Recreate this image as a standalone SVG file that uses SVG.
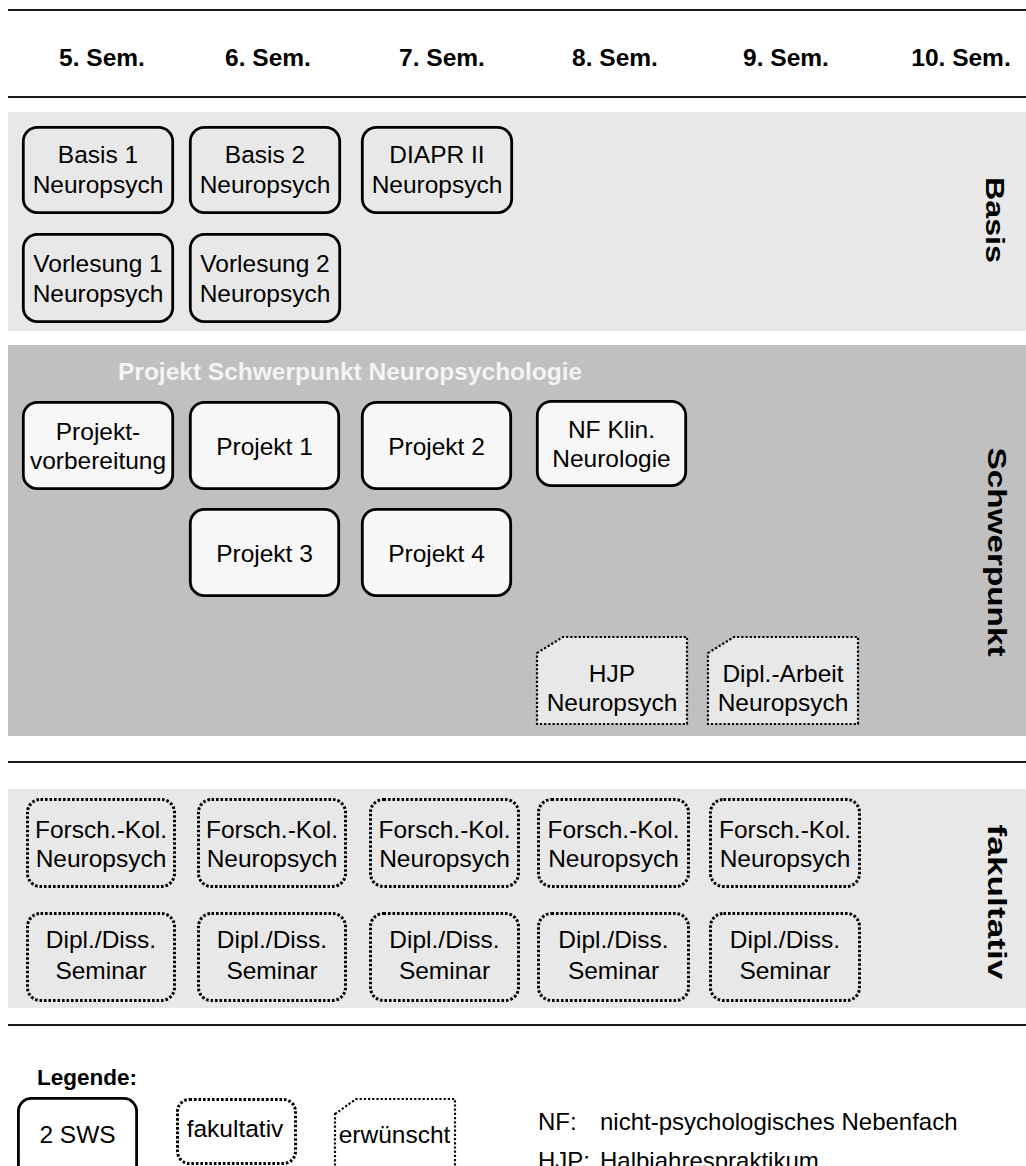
<svg xmlns="http://www.w3.org/2000/svg" width="1026" height="1166" viewBox="0 0 1026 1166">
<style>
text{font-family:"Liberation Sans",Arial,sans-serif;fill:#000}
.t{font-size:24.5px;text-anchor:middle}
.h{font-size:24.5px;font-weight:bold;text-anchor:middle}
.v{font-size:25px;font-weight:bold;text-anchor:middle}
.rule{stroke:#1a1a1a;stroke-width:2}
.solid{fill:#e8e8e8;stroke:#000;stroke-width:2.8}
.solidw{fill:#f7f7f7;stroke:#000;stroke-width:2.8}
.fak{fill:#e8e8e8;stroke:#000;stroke-width:3;stroke-dasharray:2.6 1.9}
.erw{fill:#e8e8e8;stroke:#000;stroke-width:2.2;stroke-dasharray:2.2 2}
</style>
<rect width="1026" height="1166" fill="#fff"/>
<g id="bands">
<rect x="8" y="112" width="1018" height="219" fill="#e8e8e8"/>
<rect x="8" y="345" width="1018" height="391" fill="#c0c0c0"/>
<rect x="8" y="789" width="1018" height="219" fill="#e8e8e8"/>
</g>
<g id="rules">
<line class="rule" x1="8" y1="10" x2="1026" y2="10"/>
<line class="rule" x1="8" y1="97" x2="1026" y2="97"/>
<line class="rule" x1="8" y1="762" x2="1026" y2="762"/>
<line class="rule" x1="8" y1="1025" x2="1026" y2="1025"/>
</g>
<g id="headers">
<text class="h" x="102" y="66">5. Sem.</text>
<text class="h" x="268" y="66">6. Sem.</text>
<text class="h" x="442" y="66">7. Sem.</text>
<text class="h" x="615" y="66">8. Sem.</text>
<text class="h" x="786" y="66">9. Sem.</text>
<text class="h" x="961" y="66">10. Sem.</text>
</g>
<g id="row-labels">
<text class="v" transform="translate(986,220) rotate(90)" textLength="86" lengthAdjust="spacingAndGlyphs">Basis</text>
<text class="v" transform="translate(988,552) rotate(90)" textLength="209" lengthAdjust="spacingAndGlyphs">Schwerpunkt</text>
<text class="v" transform="translate(988,902) rotate(90)" textLength="155" lengthAdjust="spacingAndGlyphs">fakultativ</text>
</g>
<text id="schwerpunkt-title" x="118" y="380" style="font-size:24.5px;font-weight:bold;fill:#f4f4f4">Projekt Schwerpunkt Neuropsychologie</text>
<g id="connectors"></g>
<g id="basis1"><rect class="solid" x="23.3" y="127.3" width="149.4" height="85.4" rx="14"/><text class="t" x="98" y="163">Basis 1</text><text class="t" x="98" y="193">Neuropsych</text></g>
<g id="basis2"><rect class="solid" x="190.3" y="127.3" width="149.4" height="85.4" rx="14"/><text class="t" x="265" y="163">Basis 2</text><text class="t" x="265" y="193">Neuropsych</text></g>
<g id="diapr2"><rect class="solid" x="362.3" y="127.3" width="149.4" height="85.4" rx="14"/><text class="t" x="437" y="163">DIAPR II</text><text class="t" x="437" y="193">Neuropsych</text></g>
<g id="vorlesung1"><rect class="solid" x="23.3" y="234.3" width="149.4" height="87.4" rx="14"/><text class="t" x="98" y="272">Vorlesung 1</text><text class="t" x="98" y="302">Neuropsych</text></g>
<g id="vorlesung2"><rect class="solid" x="190.3" y="234.3" width="149.4" height="87.4" rx="14"/><text class="t" x="265" y="272">Vorlesung 2</text><text class="t" x="265" y="302">Neuropsych</text></g>
<g id="projektvorbereitung"><rect class="solidw" x="23.3" y="402.3" width="149.4" height="86.4" rx="14"/><text class="t" x="98" y="440">Projekt-</text><text class="t" x="98" y="469">vorbereitung</text></g>
<g id="projekt1"><rect class="solidw" x="190.3" y="402.3" width="148.4" height="86.4" rx="14"/><text class="t" x="264.5" y="455">Projekt 1</text></g>
<g id="projekt2"><rect class="solidw" x="362.3" y="402.3" width="148.4" height="86.4" rx="14"/><text class="t" x="436.5" y="455">Projekt 2</text></g>
<g id="nf-klin"><rect class="solidw" x="537.3" y="401.3" width="148.4" height="84.4" rx="14"/><text class="t" x="611.5" y="438">NF Klin.</text><text class="t" x="611.5" y="467">Neurologie</text></g>
<g id="projekt3"><rect class="solidw" x="190.3" y="509.3" width="148.4" height="86.4" rx="14"/><text class="t" x="264.5" y="562">Projekt 3</text></g>
<g id="projekt4"><rect class="solidw" x="362.3" y="509.3" width="148.4" height="86.4" rx="14"/><text class="t" x="436.5" y="562">Projekt 4</text></g>
<g id="hjp"><path class="erw" d="M537,653 L563,637 L687,637 L687,724 L537,724 Z"/><text class="t" x="612" y="682">HJP</text><text class="t" x="612" y="711">Neuropsych</text></g>
<g id="dipl-arbeit"><path class="erw" d="M708,653 L734,637 L858,637 L858,724 L708,724 Z"/><text class="t" x="783" y="682">Dipl.-Arbeit</text><text class="t" x="783" y="711">Neuropsych</text></g>
<g id="fk1"><rect class="fak" x="27.5" y="799.5" width="147" height="87" rx="13"/><text class="t" x="101" y="838">Forsch.-Kol.</text><text class="t" x="101" y="867">Neuropsych</text></g>
<g id="fk2"><rect class="fak" x="198.5" y="799.5" width="147" height="87" rx="13"/><text class="t" x="272" y="838">Forsch.-Kol.</text><text class="t" x="272" y="867">Neuropsych</text></g>
<g id="fk3"><rect class="fak" x="370.5" y="799.5" width="148" height="87" rx="13"/><text class="t" x="444.5" y="838">Forsch.-Kol.</text><text class="t" x="444.5" y="867">Neuropsych</text></g>
<g id="fk4"><rect class="fak" x="538.5" y="799.5" width="150" height="87" rx="13"/><text class="t" x="613.5" y="838">Forsch.-Kol.</text><text class="t" x="613.5" y="867">Neuropsych</text></g>
<g id="fk5"><rect class="fak" x="710.5" y="799.5" width="149" height="87" rx="13"/><text class="t" x="785" y="838">Forsch.-Kol.</text><text class="t" x="785" y="867">Neuropsych</text></g>
<g id="dd1"><rect class="fak" x="27.5" y="913.5" width="147" height="87" rx="13"/><text class="t" x="101" y="948">Dipl./Diss.</text><text class="t" x="101" y="979">Seminar</text></g>
<g id="dd2"><rect class="fak" x="198.5" y="913.5" width="147" height="87" rx="13"/><text class="t" x="272" y="948">Dipl./Diss.</text><text class="t" x="272" y="979">Seminar</text></g>
<g id="dd3"><rect class="fak" x="370.5" y="913.5" width="148" height="87" rx="13"/><text class="t" x="444.5" y="948">Dipl./Diss.</text><text class="t" x="444.5" y="979">Seminar</text></g>
<g id="dd4"><rect class="fak" x="538.5" y="913.5" width="150" height="87" rx="13"/><text class="t" x="613.5" y="948">Dipl./Diss.</text><text class="t" x="613.5" y="979">Seminar</text></g>
<g id="dd5"><rect class="fak" x="710.5" y="913.5" width="149" height="87" rx="13"/><text class="t" x="785" y="948">Dipl./Diss.</text><text class="t" x="785" y="979">Seminar</text></g>
<g id="legend">
<text x="37" y="1085" style="font-size:22.5px;font-weight:bold">Legende:</text>
<g id="legend-sws"><rect x="18.4" y="1098.4" width="118.2" height="80" rx="13" fill="#fff" stroke="#000" stroke-width="2.8"/><text class="t" x="77.5" y="1143">2 SWS</text></g>
<g id="legend-fak"><rect x="177.5" y="1099.5" width="118" height="64" rx="12" fill="#fff" stroke="#000" stroke-width="3" stroke-dasharray="2.6 1.9"/><text class="t" x="235" y="1137">fakultativ</text></g>
<g id="legend-erw"><path d="M335,1114 L356,1099 L455,1099 L455,1180 L335,1180 Z" fill="#fff" stroke="#000" stroke-width="2.2" stroke-dasharray="2.2 2"/><text class="t" x="394.5" y="1143">erwünscht</text></g>
<text x="538" y="1130" style="font-size:24px">NF:</text><text x="600" y="1130" style="font-size:24px">nicht-psychologisches Nebenfach</text>
<text x="538" y="1169" style="font-size:24px">HJP:</text><text x="600" y="1169" style="font-size:24px">Halbjahrespraktikum</text>
</g>
</svg>
